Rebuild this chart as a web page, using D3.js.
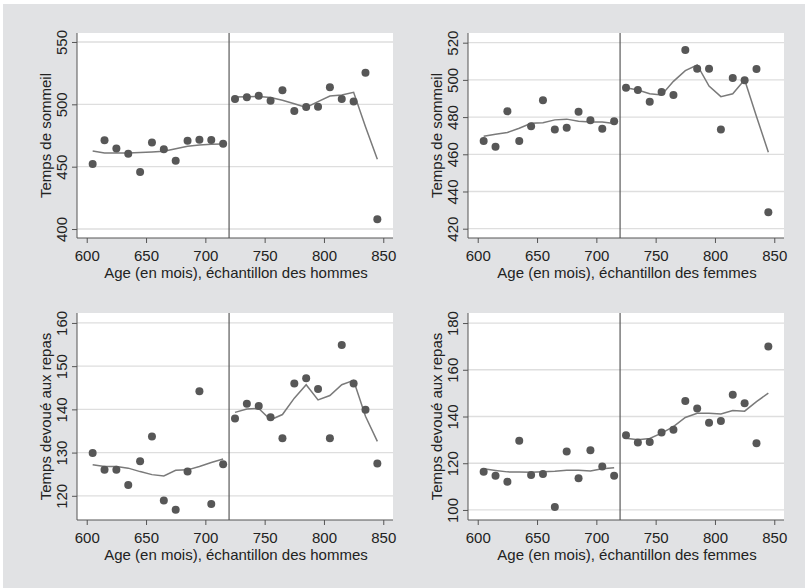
<!DOCTYPE html>
<html>
<head>
<meta charset="utf-8">
<script src="https://cdn.jsdelivr.net/npm/d3@7"></script>
<style>
  body { margin: 0; background: #fff; }
  svg { display: block; font-family: "Liberation Sans", Arial, sans-serif; }
</style>
</head>
<body>
<svg id="chart" width="805" height="588"></svg>
<script>
// age bins (months)
const ages = [605, 615, 625, 635, 645, 655, 665, 675, 685, 695, 705, 715,
              725, 735, 745, 755, 765, 775, 785, 795, 805, 815, 825, 835, 845];
const cutoff = 720;
const xTicks = [600, 650, 700, 750, 800, 850];

// sleep, men
const sleepMen = [452.1, 471.1, 464.5, 460.4, 445.7, 469.3, 463.9, 454.8, 470.8, 471.6, 471.3, 468.4,
                  504.3, 505.6, 506.9, 502.9, 511.2, 494.7, 497.9, 498.1, 513.6, 504.3, 502.2, 525.4, 407.8];
const sleepMenFit = [462.5, 461, 461, 461, 461.3, 461.8, 462.3, 464.3, 466.3, 467.4, 468, 468.2,
                     505.8, 506, 506.3, 505.4, 503.3, 500.5, 497.5, 502.2, 506.7, 507.5, 509.6, 482, 456];
// sleep, women
const sleepWomen = [467.2, 464, 483.1, 467.2, 475.1, 489.1, 473.3, 474.2, 482.8, 478.3, 473.7, 477.8,
                    495.8, 494.6, 488.2, 493.5, 491.9, 516.1, 506, 506, 473.3, 501, 499.8, 505.9, 428.8];
const sleepWomenFit = [469.7, 470.8, 471.7, 474, 476.7, 476.9, 478.5, 478.9, 477.8, 477.4, 477.4, 476.5,
                       495.8, 494.6, 492.5, 491.9, 499.2, 505, 508, 496.7, 491, 492.5, 500, 480.3, 461.1];
// meals, men
const mealMen = [129.9, 126, 126, 122.5, 128, 133.7, 118.9, 116.8, 125.6, 144.2, 118.1, 127.3,
                 137.9, 141.3, 140.8, 138.2, 133.3, 146, 147.2, 144.7, 133.3, 154.9, 146, 139.9, 127.5];
const mealMenFit = [127.2, 126.8, 126.8, 126.4, 125.6, 124.9, 124.6, 125.9, 126, 126.8, 127.7, 128.5,
                    139.3, 140.1, 140.2, 137.6, 138.8, 142.6, 145.7, 142.2, 143.2, 145.7, 146.7, 138.4, 132.6];
// meals, women
const mealWomen = [116.3, 114.6, 112.1, 129.6, 115, 115.4, 101.3, 125, 113.6, 125.6, 118.6, 114.6,
                   132, 128.9, 129.1, 133.1, 134.3, 146.6, 143.4, 137.3, 138.1, 149.3, 145.7, 128.6, 170];
const mealWomenFit = [117.6, 116.9, 116.3, 116.2, 116.1, 116.4, 116.6, 117, 117, 116.7, 117.6, 118.1,
                      130.7, 130.1, 130.6, 132.9, 135.7, 139.6, 141.4, 141.4, 141.1, 142.6, 142.3, 146.4, 150];

const sleepLabel = "Temps de sommeil";
const mealLabel = "Temps devoué aux repas";
const menLabel = "Age (en mois), échantillon des hommes";
const womenLabel = "Age (en mois), échantillon des femmes";

const panels = [
  { x: 77, y: 33, w: 316, h: 205, yDomain: [392.8, 557.2], yTicks: [400, 450, 500, 550],
    ylab: sleepLabel, xlab: menLabel, pts: sleepMen, fit: sleepMenFit },
  { x: 468, y: 33, w: 316, h: 205, yDomain: [415, 525.2], yTicks: [420, 440, 460, 480, 500, 520],
    ylab: sleepLabel, xlab: womenLabel, pts: sleepWomen, fit: sleepWomenFit },
  { x: 77, y: 313, w: 316, h: 207, yDomain: [114.4, 162.3], yTicks: [120, 130, 140, 150, 160],
    ylab: mealLabel, xlab: menLabel, pts: mealMen, fit: mealMenFit },
  { x: 468, y: 313, w: 316, h: 207, yDomain: [95.7, 184.3], yTicks: [100, 120, 140, 160, 180],
    ylab: mealLabel, xlab: womenLabel, pts: mealWomen, fit: mealWomenFit }
];

const svg = d3.select("#chart");

// grey graph region
svg.append("rect").attr("x", 3).attr("y", 4).attr("width", 802).attr("height", 584)
  .attr("fill", "#e1e2e4");

panels.forEach(p => {
  const x = d3.scaleLinear().domain([591.8, 858.2]).range([0, p.w]);
  const y = d3.scaleLinear().domain(p.yDomain).range([p.h, 0]);
  const g = svg.append("g").attr("transform", `translate(${p.x},${p.y})`);

  g.append("rect").attr("width", p.w).attr("height", p.h).attr("fill", "#fff");

  // gridlines
  g.selectAll(".grid").data(p.yTicks).join("line")
    .attr("x1", 0).attr("x2", p.w)
    .attr("y1", d => y(d)).attr("y2", d => y(d))
    .attr("stroke", "#dedede").attr("stroke-width", 1.3);

  // cutoff line
  g.append("line")
    .attr("x1", x(cutoff)).attr("x2", x(cutoff))
    .attr("y1", 0).attr("y2", p.h)
    .attr("stroke", "#595959").attr("stroke-width", 1.2);

  // y axis
  const ya = g.append("g").call(d3.axisLeft(y).tickValues(p.yTicks).tickSize(5).tickPadding(3));
  ya.select(".domain").attr("stroke", "#555").attr("d", `M0,0V${p.h}`);
  ya.selectAll(".tick line").attr("stroke", "#555");
  ya.selectAll(".tick text")
    .attr("transform", "rotate(-90)").attr("x", 0).attr("y", -10)
    .attr("dy", 0).attr("text-anchor", "middle")
    .attr("font-size", 15).attr("font-family", "Liberation Sans, Arial, sans-serif")
    .attr("fill", "#222");

  // x axis
  const xa = g.append("g").attr("transform", `translate(0,${p.h})`)
    .call(d3.axisBottom(x).tickValues(xTicks).tickSize(5).tickPadding(3));
  xa.select(".domain").attr("stroke", "#555").attr("d", `M0,0H${p.w}`);
  xa.selectAll(".tick line").attr("stroke", "#555");
  xa.selectAll(".tick text")
    .attr("y", 23).attr("dy", 0)
    .attr("font-size", 15).attr("font-family", "Liberation Sans, Arial, sans-serif")
    .attr("fill", "#222");

  // axis titles
  g.append("text")
    .attr("transform", `translate(-26,${p.h / 2}) rotate(-90)`)
    .attr("text-anchor", "middle").attr("font-size", 15).attr("fill", "#222")
    .text(p.ylab);
  g.append("text")
    .attr("x", p.w / 2 + 1).attr("y", p.h + 40)
    .attr("text-anchor", "middle").attr("font-size", 15).attr("fill", "#222")
    .text(p.xlab);

  // smooth lines, one per side of cutoff
  const rows = ages.map((a, i) => ({ age: a, v: p.pts[i], f: p.fit[i] }));
  const line = d3.line().x(d => x(d.age)).y(d => y(d.f));
  [rows.filter(d => d.age < cutoff), rows.filter(d => d.age > cutoff)].forEach(seg => {
    g.append("path").attr("d", line(seg))
      .attr("fill", "none").attr("stroke", "#7a7a7a").attr("stroke-width", 1.5);
  });

  // points
  g.selectAll(".pt").data(rows).join("circle")
    .attr("cx", d => x(d.age)).attr("cy", d => y(d.v))
    .attr("r", 4).attr("fill", "#575757");
});
</script>
</body>
</html>
